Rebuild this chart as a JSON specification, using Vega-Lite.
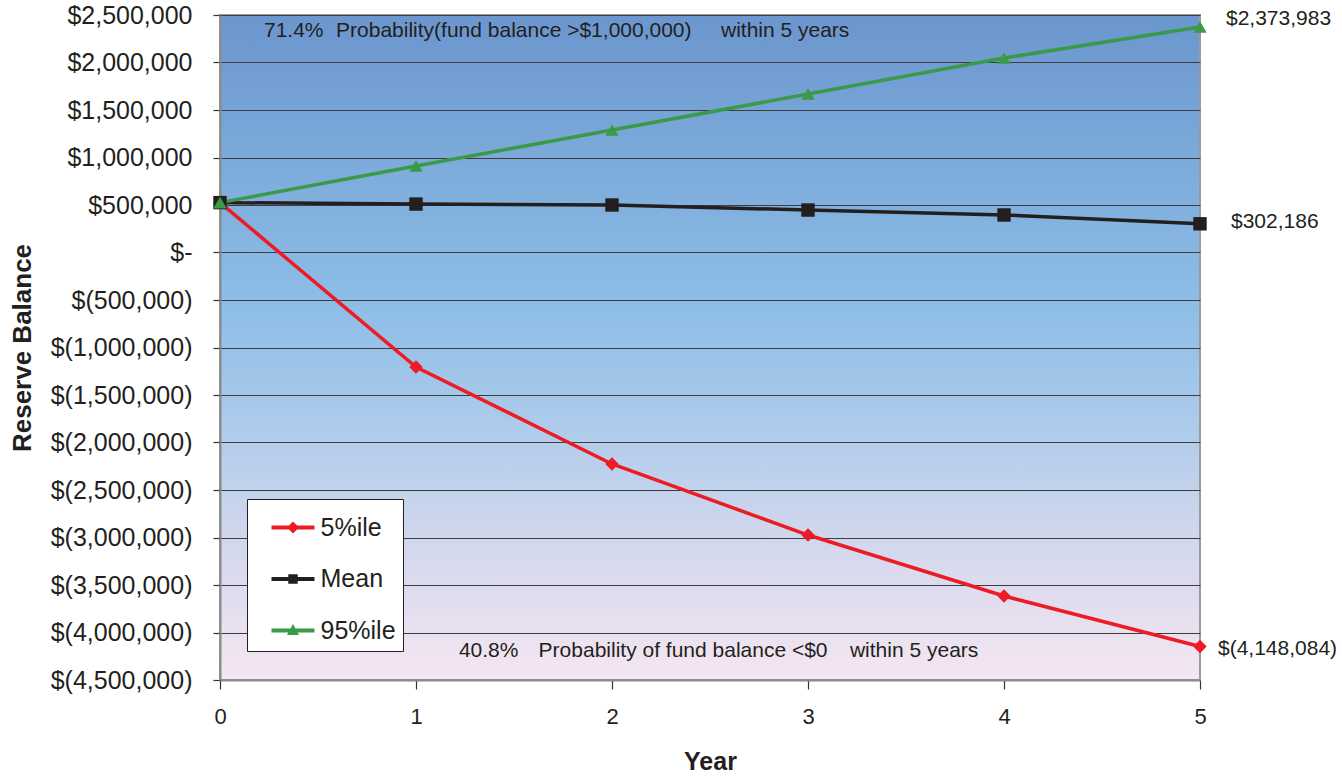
{
  "$schema": "https://vega.github.io/schema/vega-lite/v6.json",
  "width": 980,
  "height": 665,
  "autosize": {"type": "none"},
  "padding": {"left": 220, "top": 15, "right": 142, "bottom": 96},
  "background": "white",
  "view": {
    "fill": {
      "gradient": "linear",
      "x1": 0, "y1": 0, "x2": 0, "y2": 1,
      "stops": [
        {"offset": 0, "color": "#6b96ce"},
        {"offset": 0.35, "color": "#87b6e2"},
        {"offset": 0.45, "color": "#8fbee7"},
        {"offset": 0.6, "color": "#aacaeb"},
        {"offset": 0.75, "color": "#cad5ec"},
        {"offset": 0.88, "color": "#e1ddef"},
        {"offset": 1, "color": "#f6e7f1"}
      ]
    },
    "stroke": "#9a9a9a",
    "strokeWidth": 2
  },
  "config": {
    "font": "Liberation Sans",
    "axis": {"labelFont": "Liberation Sans", "titleFont": "Liberation Sans", "labelColor": "#231f20", "titleColor": "#231f20"},
    "legend": {
      "orient": "none",
      "legendX": 27,
      "legendY": 484,
      "fillColor": "white",
      "strokeColor": "#231f20",
      "padding": 7,
      "symbolSize": 1849,
      "symbolOffset": 17.5,
      "symbolOpacity": 1,
      "symbolStrokeWidth": 0,
      "rowPadding": 16.5,
      "labelFontSize": 25,
      "labelColor": "#231f20",
      "labelOffset": 6,
      "labelFont": "Liberation Sans"
    }
  },
  "datasets": {
    "balance": [
      {"year": 0, "series": "5%ile", "value": 525000},
      {"year": 1, "series": "5%ile", "value": -1205000},
      {"year": 2, "series": "5%ile", "value": -2226000},
      {"year": 3, "series": "5%ile", "value": -2974000},
      {"year": 4, "series": "5%ile", "value": -3616000},
      {"year": 5, "series": "5%ile", "value": -4148084},
      {"year": 0, "series": "Mean", "value": 525000},
      {"year": 1, "series": "Mean", "value": 510000},
      {"year": 2, "series": "Mean", "value": 500000},
      {"year": 3, "series": "Mean", "value": 447000},
      {"year": 4, "series": "Mean", "value": 395000},
      {"year": 5, "series": "Mean", "value": 302186},
      {"year": 0, "series": "95%ile", "value": 525000},
      {"year": 1, "series": "95%ile", "value": 910000},
      {"year": 2, "series": "95%ile", "value": 1289000},
      {"year": 3, "series": "95%ile", "value": 1668000},
      {"year": 4, "series": "95%ile", "value": 2047000},
      {"year": 5, "series": "95%ile", "value": 2373983}
    ],
    "notes": [
      {"x": 0.2245, "y": 2330000, "note": "71.4%"},
      {"x": 0.592, "y": 2330000, "note": "Probability(fund balance >$1,000,000)"},
      {"x": 2.556, "y": 2330000, "note": "within 5 years"},
      {"x": 1.219, "y": -4190000, "note": "40.8%"},
      {"x": 1.6255, "y": -4190000, "note": "Probability of fund balance <$0"},
      {"x": 3.214, "y": -4190000, "note": "within 5 years"}
    ]
  },
  "data": {"name": "balance"},
  "encoding": {
    "x": {
      "field": "year",
      "type": "quantitative",
      "scale": {"domain": [0, 5], "nice": false, "zero": false},
      "axis": {
        "title": "Year",
        "values": [0, 1, 2, 3, 4, 5],
        "format": "d",
        "grid": false,
        "domainColor": "#8a8a8a",
        "domainWidth": 2,
        "tickColor": "#333333",
        "tickSize": 9,
        "tickWidth": 1.2,
        "labelFontSize": 22,
        "labelPadding": 17,
        "labelFlush": false,
        "titleFontSize": 25,
        "titleFontWeight": "bold",
        "titleX": 490,
        "titleY": 89,
        "titleBaseline": "alphabetic"
      }
    },
    "y": {
      "field": "value",
      "type": "quantitative",
      "scale": {"domain": [-4500000, 2500000], "nice": false, "zero": false},
      "axis": {
        "title": "Reserve Balance",
        "values": [-4500000, -4000000, -3500000, -3000000, -2500000, -2000000, -1500000, -1000000, -500000, 0, 500000, 1000000, 1500000, 2000000, 2500000],
        "labelExpr": "datum.value == 0 ? '$-' : datum.value < 0 ? '$(' + format(-datum.value, ',') + ')' : '$' + format(datum.value, ',')",
        "grid": true,
        "gridColor": "#3d3d3d",
        "gridWidth": 1.2,
        "domainColor": "#8a8a8a",
        "domainWidth": 2,
        "tickColor": "#333333",
        "tickSize": 7,
        "tickWidth": 1.2,
        "labelFontSize": 25,
        "labelPadding": 21,
        "labelFlush": false,
        "titleFontSize": 26,
        "titleFontWeight": "bold",
        "titleX": -198,
        "titleY": 332.5,
        "titleAngle": -90,
        "titleBaseline": "middle",
        "titleAlign": "center"
      }
    }
  },
  "layer": [
    {
      "mark": {"type": "line", "strokeWidth": 3.5},
      "encoding": {
        "color": {
          "field": "series",
          "type": "nominal",
          "scale": {"domain": ["5%ile", "Mean", "95%ile"], "range": ["#ed1c24", "#231f20", "#3a9a48"]},
          "legend": null
        },
        "detail": {"field": "series"}
      }
    },
    {
      "mark": {"type": "point", "filled": true, "size": 180, "opacity": 1},
      "encoding": {
        "color": {
          "field": "series",
          "type": "nominal",
          "scale": {"domain": ["5%ile", "Mean", "95%ile"], "range": ["#ed1c24", "#231f20", "#3a9a48"]},
          "legend": null
        },
        "shape": {
          "field": "series",
          "type": "nominal",
          "scale": {"domain": ["5%ile", "Mean", "95%ile"], "range": ["diamond", "square", "triangle-up"]},
          "legend": null
        }
      }
    },
    {
      "mark": {"type": "point", "filled": true, "size": 180, "opacity": 0},
      "encoding": {
        "color": {
          "field": "series",
          "type": "nominal",
          "scale": {"domain": ["5%ile", "Mean", "95%ile"], "range": ["#ed1c24", "#231f20", "#3a9a48"]},
          "legend": {"title": null}
        },
        "shape": {
          "field": "series",
          "type": "nominal",
          "scale": {
            "domain": ["5%ile", "Mean", "95%ile"],
            "range": [
              "M-1,-0.09L-0.19,-0.09L0,-0.28L0.19,-0.09L1,-0.09L1,0.09L0.19,0.09L0,0.28L-0.19,0.09L-1,0.09Z",
              "M-1,-0.09L-0.22,-0.09L-0.22,-0.22L0.22,-0.22L0.22,-0.09L1,-0.09L1,0.09L0.22,0.09L0.22,0.22L-0.22,0.22L-0.22,0.09L-1,0.09Z",
              "M-1,-0.09L-0.115,-0.09L0,-0.3L0.115,-0.09L1,-0.09L1,0.09L0.214,0.09L0.28,0.21L-0.28,0.21L-0.214,0.09L-1,0.09Z"
            ]
          },
          "legend": {"title": null}
        }
      }
    },
    {
      "data": {"name": "notes"},
      "mark": {"type": "text", "align": "left", "baseline": "middle", "fontSize": 21, "color": "#231f20"},
      "encoding": {
        "x": {"field": "x", "type": "quantitative"},
        "y": {"field": "y", "type": "quantitative"},
        "text": {"field": "note"}
      }
    },
    {
      "transform": [
        {"filter": "datum.year === 5 && datum.series === '95%ile'"},
        {"calculate": "datum.value < 0 ? '$(' + format(-datum.value, ',') + ')' : '$' + format(datum.value, ',')", "as": "label"}
      ],
      "mark": {"type": "text", "align": "left", "baseline": "middle", "fontSize": 21, "color": "#231f20", "dx": 26, "dy": -8},
      "encoding": {"text": {"field": "label"}}
    },
    {
      "transform": [
        {"filter": "datum.year === 5 && datum.series === 'Mean'"},
        {"calculate": "datum.value < 0 ? '$(' + format(-datum.value, ',') + ')' : '$' + format(datum.value, ',')", "as": "label"}
      ],
      "mark": {"type": "text", "align": "left", "baseline": "middle", "fontSize": 21, "color": "#231f20", "dx": 31, "dy": -2},
      "encoding": {"text": {"field": "label"}}
    },
    {
      "transform": [
        {"filter": "datum.year === 5 && datum.series === '5%ile'"},
        {"calculate": "datum.value < 0 ? '$(' + format(-datum.value, ',') + ')' : '$' + format(datum.value, ',')", "as": "label"}
      ],
      "mark": {"type": "text", "align": "left", "baseline": "middle", "fontSize": 21, "color": "#231f20", "dx": 18, "dy": 2},
      "encoding": {"text": {"field": "label"}}
    }
  ],
  "resolve": {"scale": {"shape": "independent", "color": "independent"}}
}
